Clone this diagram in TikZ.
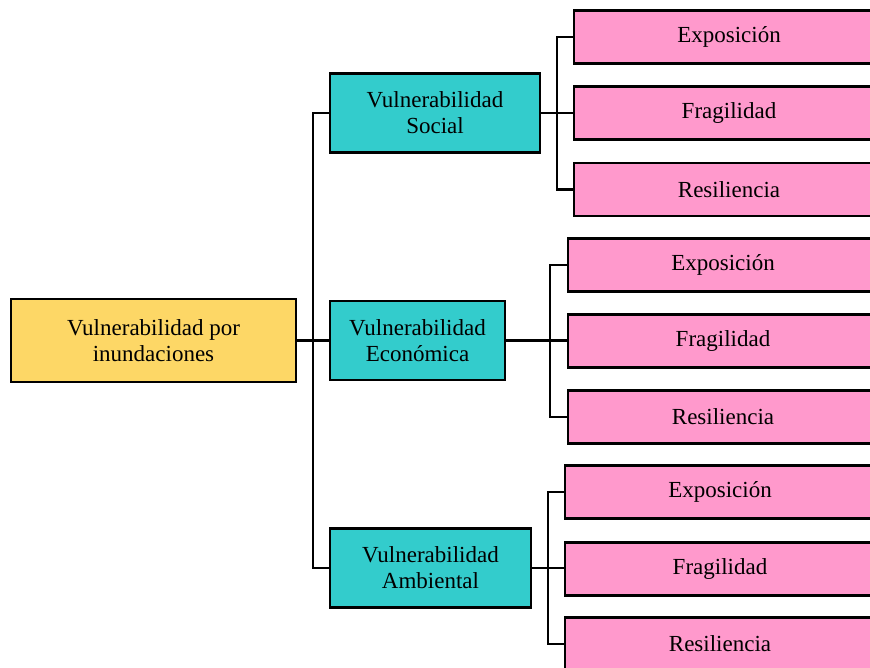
\documentclass[tikz,border=0pt]{standalone}
\usepackage{fontspec}
\setmainfont{Liberation Serif}
\definecolor{rootfill}{HTML}{FDD766}
\definecolor{tealfill}{HTML}{33CCCC}
\definecolor{pinkfill}{HTML}{FF99CC}
\begin{document}
\begin{tikzpicture}[x=1pt,y=-1pt,
  box/.style={draw=black,line width=2.9pt,inner sep=0pt,align=center,
    font=\fontsize{23}{26}\selectfont,text=black},
  rootbox/.style={box,fill=rootfill,minimum width=285pt,minimum height=83pt},
  midbox/.style={box,fill=tealfill,minimum height=79pt},
  leafbox/.style={box,fill=pinkfill,minimum width=310pt,minimum height=53pt},
  link/.style={draw=black,line width=2.7pt}]
\useasboundingbox (0,0) rectangle (870,667);
\clip (0,0) rectangle (870,667);
\fill[white] (0,0) rectangle (870,667);

% root
\node[rootbox] (root) at (153.5,340.5) {Vulnerabilidad por\\inundaciones};

% second level
\node[midbox,minimum width=210pt] (soc) at (435,113) {Vulnerabilidad\\Social};
\node[midbox,minimum width=175pt] (eco) at (417.5,340.5) {Vulnerabilidad\\Económica};
\node[midbox,minimum width=201pt] (amb) at (430.5,568) {Vulnerabilidad\\Ambiental};

% leaves of the social branch
\node[leafbox] (s1) at (729,37) {Exposición};
\node[leafbox] (s2) at (729,113) {Fragilidad};
\node[leafbox] (s3) at (729,189.5) {Resiliencia};
% leaves of the economic branch
\node[leafbox] (e1) at (723,265) {Exposición};
\node[leafbox] (e2) at (723,341) {Fragilidad};
\node[leafbox] (e3) at (723,417) {Resiliencia};
% leaves of the environmental branch
\node[leafbox] (a1) at (720,492) {Exposición};
\node[leafbox] (a2) at (720,569) {Fragilidad};
\node[leafbox] (a3) at (720,644) {Resiliencia};

% bracket columns
\coordinate (t) at (313,0);
\coordinate (bs) at (557,0);
\coordinate (be) at (550,0);
\coordinate (ba) at (548,0);

% trunk
\draw[link] (root.east) -- (root.east -| eco.west);
\draw[link] (soc.west) -- (soc.west -| t) -- (amb.west -| t) -- (amb.west);
% social bracket
\draw[link] (soc.east) -- (soc.east -| s2.west);
\draw[link] (s1.west) -- (s1.west -| bs) -- (s3.west -| bs) -- (s3.west);
% economic bracket
\draw[link] (eco.east) -- (eco.east -| e2.west);
\draw[link] (e1.west) -- (e1.west -| be) -- (e3.west -| be) -- (e3.west);
% environmental bracket
\draw[link] (amb.east) -- (amb.east -| a2.west);
\draw[link] (a1.west) -- (a1.west -| ba) -- (a3.west -| ba) -- (a3.west);
\end{tikzpicture}
\end{document}
